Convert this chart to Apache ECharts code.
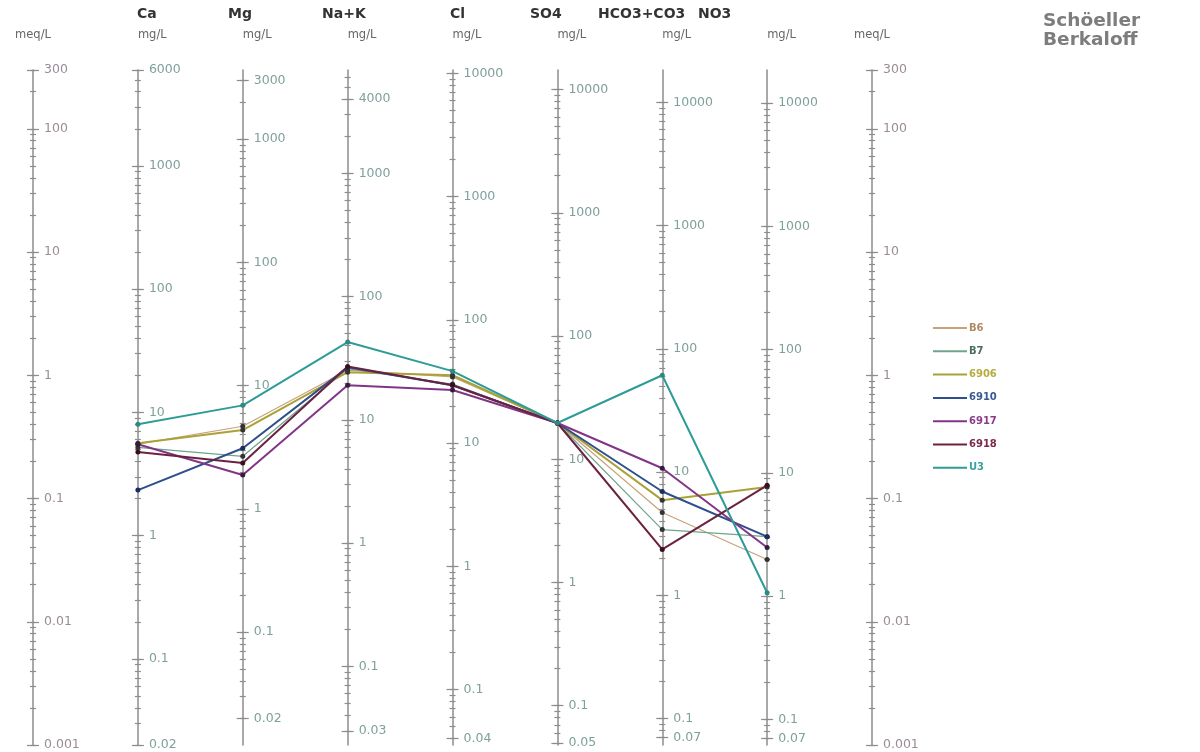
<!DOCTYPE html>
<html><head><meta charset="utf-8">
<script src="https://cdn.jsdelivr.net/npm/echarts@6/dist/echarts.min.js"></script>
<style>html,body{margin:0;padding:0;background:#fff}#c{width:1200px;height:752px}</style>
</head><body><div id="c"></div>
<script>
// ---- data ----
const ions = ['Ca', 'Mg', 'Na+K', 'Cl', 'SO4', 'HCO3+CO3', 'NO3'];
const eqWeights = [20.0, 12.15, 23.0, 35.45, 48.03, 61.02, 62.0];
const meqRange = [0.001, 300];
const meqLabels = [0.001, 0.01, 0.1, 1, 10, 100, 300];
const caLabels = [0.02, 0.1, 1, 10, 100, 1000, 6000];
const mgLabels = [0.02, 0.1, 1, 10, 100, 1000, 3000];
const naLabels = [0.03, 0.1, 1, 10, 100, 1000, 4000];
const clLabels = [0.04, 0.1, 1, 10, 100, 1000, 10000];
const so4Labels = [0.05, 0.1, 1, 10, 100, 1000, 10000];
const hco3Labels = [0.07, 0.1, 1, 10, 100, 1000, 10000];
const no3Labels = [0.07, 0.1, 1, 10, 100, 1000, 10000];
const ionLabels = [caLabels, mgLabels, naLabels, clLabels, so4Labels, hco3Labels, no3Labels];

const sampleNames = ['B6', 'B7', '6906', '6910', '6917', '6918', 'U3'];
// meq/L for Ca, Mg, Na+K, Cl, SO4, HCO3+CO3, NO3
const B6   = [0.276, 0.386, 1.10, 0.97, 0.41, 0.077, 0.032];
const B7   = [0.26, 0.22, 1.13, 0.85, 0.41, 0.056, 0.049];
const s6906 = [0.281, 0.359, 1.06, 1.00, 0.41, 0.097, 0.124];
const s6910 = [0.117, 0.256, 1.16, 0.83, 0.41, 0.114, 0.049];
const s6917 = [0.276, 0.155, 0.83, 0.76, 0.41, 0.176, 0.040];
const s6918 = [0.238, 0.194, 1.18, 0.83, 0.41, 0.0386, 0.128];
const U3   = [0.40, 0.57, 1.86, 1.08, 0.41, 1.00, 0.0172];
const sampleValues = [B6, B7, s6906, s6910, s6917, s6918, U3];

// ---- styles ----
const lineColors = ['#c9a27a', '#6fa58a', '#aaa236', '#2f4f8c', '#823586', '#6b2240', '#2e9c96'];
const legendTextColors = ['#b08a62', '#4d6e5e', '#b5ad40', '#3a5a92', '#8a3c8c', '#7a2a4a', '#3aa3a0'];
const markerColors = ['#333', '#333', '#333', '#1b2f5a', '#3a1a40', '#3a1020', '#2a8a85'];
const lineWidths = [1.2, 1.2, 2, 2, 2, 2, 2];

const W = 1200, GL = 33, GR = 872;
const spacing = (GR - GL) / 8;
const axisColor = '#8c8c8c';
const font = 'DejaVu Sans';

function minorTicks(lo, hi) {
  const out = [];
  for (let d = Math.floor(Math.log10(lo)) - 1; d <= Math.ceil(Math.log10(hi)); d++) {
    for (let k = 1; k < 10; k++) {
      const v = +(k * Math.pow(10, d)).toPrecision(6);
      if (v >= lo * 0.9999 && v <= hi * 1.0001) out.push(v);
    }
  }
  return out;
}

function axisSet(i, w, labels, labelColor, unitName, nameAlign) {
  const min = meqRange[0] * w, max = meqRange[1] * w;
  const minor = minorTicks(min, max);
  const base = {
    type: 'log', logBase: 10, min: min, max: max, position: 'left', offset: -i * spacing,
    gridIndex: 0, splitLine: { show: false }, axisLine: { show: false },
    axisLabel: { show: false }, axisTick: { show: false }
  };
  const tickStyle = { color: axisColor, width: 1.2 };
  return [
    Object.assign({}, base, {
      name: unitName, nameLocation: 'end', nameGap: 29,
      nameTextStyle: { color: '#666', fontSize: 11.5, fontFamily: font, align: nameAlign },
      axisLine: { show: true, lineStyle: { color: axisColor, width: 1.5 } },
      axisLabel: { show: true, inside: true, margin: 11, customValues: labels,
        formatter: function (v) { return String(v); },
        color: labelColor, fontSize: 12.5, fontFamily: font },
      axisTick: { show: true, inside: true, length: 6, customValues: labels, lineStyle: tickStyle }
    }),
    Object.assign({}, base, { axisTick: { show: true, inside: false, length: 6, customValues: labels, lineStyle: tickStyle } }),
    Object.assign({}, base, { axisTick: { show: true, inside: true, length: 3, customValues: minor, lineStyle: tickStyle } }),
    Object.assign({}, base, { axisTick: { show: true, inside: false, length: 3, customValues: minor, lineStyle: tickStyle } })
  ];
}

let yAxes = [];
yAxes = yAxes.concat(axisSet(0, 1, meqLabels, '#9a8c96', 'meq/L', 'center'));
for (let k = 0; k < ions.length; k++) {
  yAxes = yAxes.concat(axisSet(k + 1, eqWeights[k], ionLabels[k], '#7fa09c', 'mg/L', 'left'));
}
yAxes = yAxes.concat(axisSet(8, 1, meqLabels, '#9a8c96', 'meq/L', 'center'));

const headerX = [137, 228, 322, 450, 530, 598, 698];

const series = sampleNames.map(function (name, i) {
  return {
    name: name, type: 'line', xAxisIndex: 0, yAxisIndex: 0,
    data: sampleValues[i].map(function (v, j) { return [j + 1, v]; }),
    symbol: 'circle', symbolSize: 5, showSymbol: true,
    lineStyle: { color: lineColors[i], width: lineWidths[i] },
    itemStyle: { color: markerColors[i] },
    emphasis: { disabled: true }, animation: false, z: 3 + (i === 6 ? 1 : 0)
  };
});

const option = {
  backgroundColor: '#ffffff',
  animation: false,
  grid: { left: GL, right: W - GR, top: 70, bottom: 7, containLabel: false, outerBoundsMode: 'none' },
  xAxis: { type: 'value', min: 0, max: 8, show: false },
  yAxis: yAxes,
  legend: {
    orient: 'vertical', left: 928, top: 316, itemWidth: 34, itemHeight: 2, itemGap: 9.3,
    selectedMode: false,
    textStyle: { fontFamily: font, fontSize: 10, fontWeight: 'bold', lineHeight: 14, padding: [0, 0, 0, -3] },
    data: sampleNames.map(function (n, i) {
      return { name: n, icon: 'rect', itemStyle: { color: lineColors[i] },
        textStyle: { color: legendTextColors[i] } };
    })
  },
  graphic: ions.map(function (ion, k) {
    return { type: 'text', left: headerX[k], top: 7, silent: true,
      style: { text: ion, fill: '#333', font: 'bold 14px "DejaVu Sans"' } };
  }).concat([
    { type: 'text', left: 1043, top: 12, silent: true,
      style: { text: 'Schöeller\nBerkaloff', fill: '#7d7d7d', font: 'bold 18.5px "DejaVu Sans"', lineHeight: 19 } }
  ]),
  series: series
};

const chart = echarts.init(document.getElementById('c'), null, { renderer: 'canvas' });
chart.setOption(option);
</script>
</body></html>
